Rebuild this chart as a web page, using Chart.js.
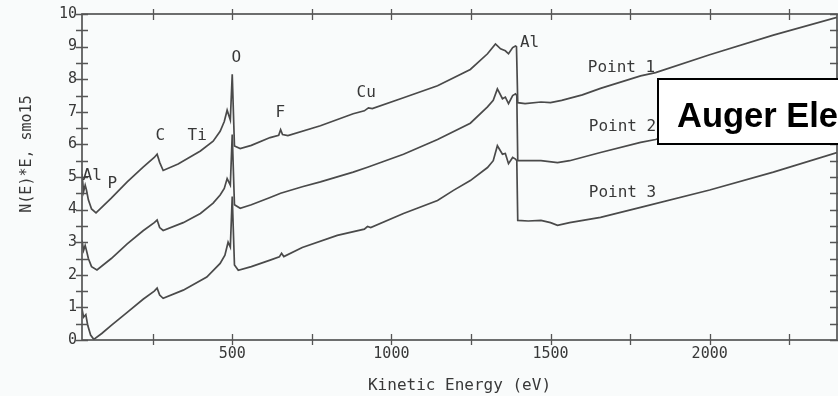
<!DOCTYPE html>
<html><head><meta charset="utf-8">
<script src="https://cdn.jsdelivr.net/npm/chart.js@4.4.0/dist/chart.umd.min.js"></script>
<style>
html,body{margin:0;padding:0;background:#f9fbfb;}
#wrap{width:838px;height:396px;position:relative;}
</style>
</head><body><div id="wrap"><canvas id="c"></canvas></div>
<script>
// ---- data ----
const energy1 = [28,33,38,42,48,58,72,120,170,220,255,264,272,283,330,400,440,462,475,484,494,500,507,525,560,619,646,652,658,675,777,880,915,928,940,1038,1145,1248,1302,1327,1343,1358,1368,1381,1390,1393,1397,1420,1470,1500,1535,1600,1657,1783,1830,2000,2200,2400];
const point1  = [5.1,4.55,4.75,4.6,4.3,4.02,3.9,4.35,4.85,5.3,5.6,5.7,5.45,5.2,5.4,5.8,6.1,6.4,6.7,7.05,6.75,8.15,5.95,5.87,5.97,6.21,6.28,6.45,6.3,6.27,6.57,6.94,7.03,7.12,7.1,7.43,7.8,8.3,8.78,9.08,8.93,8.87,8.78,8.97,9.02,9.0,7.28,7.25,7.3,7.28,7.35,7.52,7.72,8.1,8.2,8.75,9.35,9.9];

const energy2 = [28,33,38,42,48,58,75,120,170,220,255,264,272,283,346,400,440,462,475,484,494,500,507,525,560,619,652,720,777,880,925,1038,1145,1248,1302,1320,1333,1349,1358,1368,1381,1390,1394,1397,1470,1522,1560,1657,1783,1830,2000,2200,2400];
const point2  = [3.05,2.75,2.9,2.75,2.5,2.25,2.15,2.5,2.95,3.35,3.6,3.68,3.45,3.36,3.6,3.88,4.2,4.45,4.65,4.95,4.75,6.3,4.15,4.04,4.15,4.37,4.5,4.7,4.85,5.15,5.3,5.7,6.15,6.65,7.15,7.35,7.7,7.4,7.45,7.25,7.5,7.55,7.5,5.5,5.5,5.44,5.5,5.75,6.06,6.15,6.7,7.3,7.85];

const energy3 = [28,33,40,46,55,65,90,120,170,220,255,264,272,283,346,420,462,477,487,494,500,507,519,560,619,648,655,662,720,830,915,925,935,1038,1145,1195,1248,1302,1320,1333,1349,1358,1368,1381,1390,1394,1397,1430,1470,1500,1522,1560,1657,1783,2000,2200,2400];
const point3  = [0.95,0.7,0.78,0.45,0.15,0.02,0.2,0.45,0.85,1.25,1.5,1.59,1.38,1.28,1.53,1.93,2.35,2.6,3.0,2.85,4.4,2.3,2.14,2.25,2.45,2.55,2.66,2.56,2.84,3.21,3.4,3.48,3.45,3.88,4.28,4.59,4.89,5.29,5.5,5.96,5.7,5.72,5.41,5.6,5.55,5.5,3.67,3.65,3.67,3.6,3.52,3.6,3.76,4.07,4.6,5.15,5.75];

const seriesNames = ['Point 1','Point 2','Point 3'];
const seriesLabelEnergy = [1723,1726,1726];
const seriesLabelLevel  = [8.35,6.54,4.5];

const peakNames  = ['Al','P','C','Ti','O','F','Cu','Al'];
const peakEnergy = [60,123,274,390,513,651,921,1434];
const peakLevel  = [5.05,4.8,6.27,6.27,8.65,6.97,7.58,9.11];

const xTicks      = [250,500,750,1000,1250,1500,1750,2000,2250];
const xTickLabels = ['','500','','1000','','1500','','2000',''];
const yTicks      = [0,0.5,1,1.5,2,2.5,3,3.5,4,4.5,5,5.5,6,6.5,7,7.5,8,8.5,9,9.5,10];
const yTickLabels = ['0','','1','','2','','3','','4','','5','','6','','7','','8','','9','','10'];

const xTitle = 'Kinetic Energy (eV)';
const yTitle = 'N(E)*E, smo15';
const chartTitle = 'Auger Electron Spectroscopy';

// ---- chart ----
const LINE = '#4a4a4a';
const TXT = '#383838';
const MONO = '"DejaVu Sans Mono", "Liberation Mono", monospace';

function toXY(xs, ys){ return xs.map((x,i)=>({x:x, y:ys[i]})); }

const decorPlugin = {
  id:'decor',
  beforeDraw(chart){
    const ctx = chart.ctx;
    ctx.save();
    ctx.fillStyle = '#f9fbfb';
    ctx.fillRect(0,0,chart.width,chart.height);
    ctx.restore();
  },
  afterDatasetsDraw(chart){
    const ctx = chart.ctx, a = chart.chartArea;
    const xs = chart.scales.x, ys = chart.scales.y;
    ctx.save();
    // frame
    ctx.strokeStyle = '#555555';
    ctx.lineWidth = 1.7;
    ctx.strokeRect(a.left, a.top, a.right - a.left, a.bottom - a.top);
    // crossing tick marks
    ctx.lineWidth = 1.3;
    ctx.beginPath();
    xTicks.forEach(v=>{
      const px = Math.round(xs.getPixelForValue(v)) + 0.5;
      ctx.moveTo(px, a.top - 5); ctx.lineTo(px, a.top + 6);
      ctx.moveTo(px, a.bottom - 6); ctx.lineTo(px, a.bottom + 5);
    });
    yTicks.forEach(v=>{
      const py = Math.round(ys.getPixelForValue(v)) + 0.5;
      ctx.moveTo(a.left - 6, py); ctx.lineTo(a.left + 6, py);
      ctx.moveTo(a.right - 7, py); ctx.lineTo(a.right + 2, py);
    });
    ctx.stroke();

    // peak labels
    ctx.fillStyle = TXT;
    ctx.font = '16px ' + MONO;
    ctx.textAlign = 'center';
    ctx.textBaseline = 'middle';
    peakNames.forEach((n,i)=>{
      ctx.fillText(n, xs.getPixelForValue(peakEnergy[i]), ys.getPixelForValue(peakLevel[i]));
    });
    seriesNames.forEach((n,i)=>{
      ctx.fillText(n, xs.getPixelForValue(seriesLabelEnergy[i]), ys.getPixelForValue(seriesLabelLevel[i]));
    });

    // y axis title
    ctx.font = '15px ' + MONO;
    ctx.save();
    ctx.translate(27, 154);
    ctx.rotate(-Math.PI/2);
    ctx.fillText(yTitle, 0, 0);
    ctx.restore();

    // overlay title box
    ctx.fillStyle = '#ffffff';
    ctx.fillRect(657, 78, 200, 67);
    ctx.strokeStyle = '#000000';
    ctx.lineWidth = 2;
    ctx.strokeRect(658, 79, 200, 65);
    ctx.fillStyle = '#000000';
    ctx.font = 'bold 34.5px "Liberation Sans", Arial, sans-serif';
    ctx.textAlign = 'left';
    ctx.textBaseline = 'alphabetic';
    ctx.fillText(chartTitle, 677, 127);
    ctx.restore();
  }
};

new Chart(document.getElementById('c'), {
  type:'scatter',
  data:{
    datasets:[
      {label:seriesNames[0], data:toXY(energy1, point1)},
      {label:seriesNames[1], data:toXY(energy2, point2)},
      {label:seriesNames[2], data:toXY(energy3, point3)}
    ].map(d=>Object.assign(d,{showLine:true, borderColor:LINE, borderWidth:1.7, pointRadius:0, tension:0, fill:false}))
  },
  options:{
    responsive:true, maintainAspectRatio:false, animation:false,
    layout:{padding:{top:13, right:1, left:0, bottom:0}},
    plugins:{legend:{display:false}, tooltip:{enabled:false}},
    scales:{
      x:{
        type:'linear', min:28, max:2400,
        afterBuildTicks(s){ s.ticks = xTicks.map(v=>({value:v})); },
        afterFit(s){ s.height = 56; },
        grid:{display:false, drawTicks:false},
        border:{display:false},
        ticks:{autoSkip:false, maxRotation:0, padding:5, color:TXT, font:{family:MONO, size:15},
          callback:(v,i)=>xTickLabels[i]},
        title:{display:true, text:xTitle, color:TXT, font:{family:MONO, size:16}, padding:{top:0,bottom:1}}
      },
      y:{
        type:'linear', min:0, max:10,
        afterBuildTicks(s){ s.ticks = yTicks.map(v=>({value:v})); },
        afterFit(s){ s.width = 82; },
        grid:{display:false, drawTicks:false},
        border:{display:false},
        ticks:{autoSkip:false, padding:5, color:TXT, font:{family:MONO, size:15},
          callback:(v,i)=>yTickLabels[i]}
      }
    }
  },
  plugins:[decorPlugin]
});
</script>
</body></html>
